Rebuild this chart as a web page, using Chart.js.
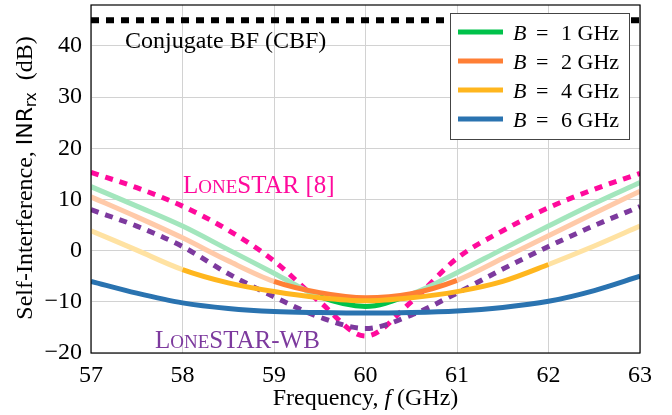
<!DOCTYPE html>
<html>
<head>
<meta charset="utf-8">
<script src="https://cdn.jsdelivr.net/npm/chart.js@4"></script>
<style>
  body { margin: 0; background: #fff; }
  #chart { display: block; }
</style>
</head>
<body>
<canvas id="chart" width="672" height="415"></canvas>
<script>
// Data -------------------------------------------------------------
const freqs = [57, 57.5, 58, 58.5, 59, 59.5, 60, 60.5, 61, 61.5, 62, 62.5, 63]
const bandwidths = [1, 2, 4, 6]
const centerFreq = 60

const inrB1 = [12.5, 8.7, 4.8, 0.2, -4.4, -9.0, -10.9, -8.5, -4.3, 0.3, 4.8, 9.2, 13.3]
const inrB2 = [10.5, 6.6, 2.5, -2.0, -6.0, -8.2, -9.2, -8.4, -5.8, -1.5, 2.9, 7.3, 11.6]
const inrB4 = [3.9, 0.1, -3.7, -6.3, -8.0, -9.2, -9.8, -9.2, -8.0, -6.0, -2.7, 0.9, 4.8]
const inrB6 = [-6.0, -8.3, -10.2, -11.3, -11.9, -12.1, -12.2, -12.1, -11.8, -11.1, -9.9, -7.8, -5.0]
const inrLoneStar = [15.3, 12.3, 8.7, 4.0, -2.0, -10.0, -16.7, -10.0, -1.5, 3.9, 8.4, 12.0, 15.1]
const inrLoneStarWB = [8.0, 4.8, 0.8, -4.5, -9.0, -13.0, -15.2, -12.6, -8.3, -3.6, 0.8, 4.9, 8.6]
const inrCBF = [45, 45, 45, 45, 45, 45, 45, 45, 45, 45, 45, 45, 45]

const xTicks = [57, 58, 59, 60, 61, 62, 63]
const yTicks = [-20, -10, 0, 10, 20, 30, 40]

// Styles -----------------------------------------------------------
const solidColors = ['#00c24a', '#ff7f35', '#ffb61e', '#2a73b0']
const lightColors = ['#a3e6bd', '#ffcaa9', '#ffe2a2', '#2a73b0']
const SERIF = '"Liberation Serif", "DejaVu Serif", serif'
const SANS = '"DejaVu Sans", sans-serif'

const points = (ys) => ys.map((y, i) => ({ x: freqs[i], y: y }))

function bandLine(values, idx) {
    const half = bandwidths[idx] / 2
    const lo = centerFreq - half
    const hi = centerFreq + half
    return {
        label: 'B = ' + bandwidths[idx] + ' GHz',
        data: points(values),
        borderColor: solidColors[idx],
        borderWidth: 5,
        pointRadius: 0,
        cubicInterpolationMode: 'monotone',
        segment: {
            borderColor: c => (c.p0.parsed.x >= lo - 1e-6 && c.p1.parsed.x <= hi + 1e-6)
                ? solidColors[idx] : lightColors[idx]
        }
    }
}

const datasets = [
    bandLine(inrB6, 3),
    bandLine(inrB4, 2),
    bandLine(inrB2, 1),
    bandLine(inrB1, 0),
    {
        label: 'LoneSTAR-WB',
        data: points(inrLoneStarWB),
        borderColor: '#7d3a9e',
        borderWidth: 5,
        borderDash: [8, 7],
        pointRadius: 0,
        cubicInterpolationMode: 'monotone'
    },
    {
        label: 'LoneSTAR [8]',
        data: points(inrLoneStar),
        borderColor: '#ff0a9c',
        borderWidth: 5,
        borderDash: [8, 7],
        pointRadius: 0,
        cubicInterpolationMode: 'monotone'
    },
    {
        label: 'Conjugate BF (CBF)',
        data: points(inrCBF),
        borderColor: '#000000',
        borderWidth: 6,
        borderDash: [8, 7],
        pointRadius: 0
    }
]

// text in pieces: [text, font]
function drawParts(ctx, parts, x, y) {
    parts.forEach(p => {
        ctx.font = p[1]
        ctx.fillText(p[0], x, y)
        x += ctx.measureText(p[0]).width
    })
}

const decorations = {
    id: 'decorations',
    afterDatasetsDraw(chart) {
        const ctx = chart.ctx
        const a = chart.chartArea
        ctx.save()

        // frame
        ctx.strokeStyle = '#000'
        ctx.lineWidth = 1.2
        ctx.setLineDash([])
        ctx.strokeRect(a.left, a.top, a.right - a.left, a.bottom - a.top)

        // curve labels
        ctx.textBaseline = 'alphabetic'
        ctx.fillStyle = '#000'
        ctx.font = '24px ' + SERIF
        ctx.fillText('Conjugate BF (CBF)', 125, 48)

        ctx.fillStyle = '#ff0a9c'
        drawParts(ctx, [['L', '25px ' + SERIF], ['ONE', '19px ' + SERIF], ['STAR [8]', '25px ' + SERIF]], 183, 193)
        ctx.fillStyle = '#7d3a9e'
        drawParts(ctx, [['L', '25px ' + SERIF], ['ONE', '19px ' + SERIF], ['STAR-WB', '25px ' + SERIF]], 155, 348)

        // legend
        ctx.fillStyle = '#fff'
        ctx.fillRect(450, 13, 179, 126)
        ctx.strokeStyle = '#444'
        ctx.lineWidth = 1
        ctx.strokeRect(450.5, 13.5, 179, 126)
        const rowsY = [32, 61, 90, 119]
        bandwidths.forEach((b, i) => {
            ctx.strokeStyle = solidColors[i]
            ctx.lineWidth = 5
            ctx.beginPath()
            ctx.moveTo(458, rowsY[i])
            ctx.lineTo(503, rowsY[i])
            ctx.stroke()
            ctx.fillStyle = '#000'
            ctx.textBaseline = 'alphabetic'
            ctx.font = 'italic 22px ' + SERIF
            ctx.fillText('B', 513, rowsY[i] + 8)
            ctx.font = '22px ' + SERIF
            ctx.fillText('=', 536, rowsY[i] + 8)
            ctx.fillText(b + ' GHz', 561, rowsY[i] + 8)
        })

        // x axis title
        ctx.fillStyle = '#000'
        const xParts = [['Frequency, ', '24px ' + SERIF], ['f', 'italic 24px ' + SERIF], [' (GHz)', '24px ' + SERIF]]
        let w = 0
        xParts.forEach(p => { ctx.font = p[1]; w += ctx.measureText(p[0]).width })
        drawParts(ctx, xParts, (a.left + a.right) / 2 - w / 2, 405)

        // y axis title (rotated, with subscript)
        ctx.translate(32, 178)
        ctx.rotate(-Math.PI / 2)
        const yParts = [
            ['Self-Interference, ', '24px ' + SERIF, 0],
            ['INR', '22px ' + SANS, 0],
            ['rx', '15px ' + SANS, 4],
            ['  (dB)', '24px ' + SERIF, 0]
        ]
        let wy = 0
        yParts.forEach(p => { ctx.font = p[1]; wy += ctx.measureText(p[0]).width })
        let yx = -wy / 2
        yParts.forEach(p => {
            ctx.font = p[1]
            ctx.fillText(p[0], yx, p[2])
            yx += ctx.measureText(p[0]).width
        })

        ctx.restore()
    }
}

const chart = new Chart(document.getElementById('chart').getContext('2d'), {
    type: 'line',
    data: { datasets: datasets },
    options: {
        responsive: false,
        animation: false,
        devicePixelRatio: 1,
        layout: { padding: { top: 5, right: 32, left: 0, bottom: 0 } },
        plugins: { legend: { display: false }, tooltip: { enabled: false } },
        scales: {
            x: {
                type: 'linear',
                min: 57,
                max: 63,
                afterBuildTicks: s => { s.ticks = xTicks.map(v => ({ value: v })) },
                afterFit: s => { s.height = 62; s.paddingLeft = 0; s.paddingRight = 0 },
                grid: { color: '#d2d2d2', lineWidth: 1, drawTicks: false },
                border: { display: false },
                ticks: { color: '#000', padding: 8, font: { family: SERIF, size: 24 }, maxRotation: 0 }
            },
            y: {
                min: -20,
                max: 48,
                afterBuildTicks: s => { s.ticks = yTicks.map(v => ({ value: v })) },
                afterFit: s => { s.width = 91; s.paddingTop = 0; s.paddingBottom = 0 },
                grid: { color: '#d2d2d2', lineWidth: 1, drawTicks: false },
                border: { display: false },
                ticks: {
                    color: '#000',
                    padding: 9,
                    font: { family: SERIF, size: 24 },
                    callback: v => v < 0 ? '\u2212' + Math.abs(v) : String(v)
                }
            }
        }
    },
    plugins: [decorations]
})
</script>
</body>
</html>
